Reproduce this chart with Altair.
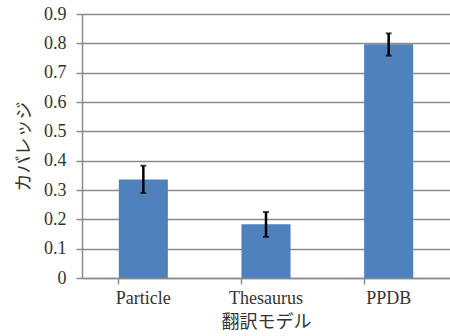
import altair as alt
import pandas as pd

models = ["Particle", "Thesaurus", "PPDB"]
coverage = [0.336, 0.183, 0.797]
err_low = [0.290, 0.140, 0.758]
err_high = [0.383, 0.225, 0.834]
y_ticks = [0, 0.1, 0.2, 0.3, 0.4, 0.5, 0.6, 0.7, 0.8, 0.9]

df = pd.DataFrame({"model": models, "coverage": coverage, "lo": err_low, "hi": err_high})

label_font = "Liberation Serif"
cjk_font = "Noto Sans CJK JP"
grid_color = "#8c8c8c"
text_color = "#333333"

x_axis = alt.Axis(
    title="翻訳モデル",
    titleFont=cjk_font,
    titleFontSize=18,
    titleFontWeight="normal",
    titleColor=text_color,
    titleX=184,
    titleY=44,
    titleBaseline="middle",
    titleAlign="center",
    labelAngle=0,
    labelFont=label_font,
    labelFontSize=18,
    labelColor=text_color,
    labelPadding=5,
    tickSize=6,
    tickColor=grid_color,
    tickWidth=1.5,
    bandPosition=0,
    domainColor=grid_color,
    domainWidth=1.5,
    grid=False,
)

y_axis = alt.Axis(
    title="カバレッジ",
    titleFont=cjk_font,
    titleFontSize=18,
    titleFontWeight="normal",
    titleColor=text_color,
    titleX=-58,
    titleY=132,
    titleAngle=270,
    titleBaseline="middle",
    titleAlign="center",
    values=y_ticks,
    format=".1~f",
    labelOverlap=False,
    labelFont=label_font,
    labelFontSize=18,
    labelColor=text_color,
    labelPadding=10,
    tickSize=6,
    tickColor=grid_color,
    tickWidth=1.5,
    domainColor=grid_color,
    domainWidth=1.5,
    grid=True,
    gridColor=grid_color,
    gridWidth=1.5,
)

x_scale = alt.Scale(paddingInner=0.6, paddingOuter=0.3)
y_scale = alt.Scale(domain=[0, 0.9], nice=False)

base = alt.Chart(df)

bars = base.mark_bar(color="#4F81BD").encode(
    x=alt.X("model:N", sort=models, scale=x_scale, axis=x_axis),
    y=alt.Y("coverage:Q", scale=y_scale, axis=y_axis),
)

rules = base.mark_rule(color="black", strokeWidth=2.5).encode(
    x=alt.X("model:N", sort=models, scale=x_scale, axis=x_axis),
    y=alt.Y("lo:Q", scale=y_scale, axis=y_axis),
    y2="hi:Q",
)

caps_lo = base.mark_tick(color="black", thickness=2, size=6).encode(
    x=alt.X("model:N", sort=models, scale=x_scale, axis=x_axis),
    y=alt.Y("lo:Q", scale=y_scale, axis=y_axis),
)
caps_hi = base.mark_tick(color="black", thickness=2, size=6).encode(
    x=alt.X("model:N", sort=models, scale=x_scale, axis=x_axis),
    y=alt.Y("hi:Q", scale=y_scale, axis=y_axis),
)

chart = (
    alt.layer(bars, rules, caps_lo, caps_hi)
    .properties(
        width=368,
        height=264,
        autosize=alt.AutoSizeParams(type="none"),
        padding={"left": 82, "top": 14, "right": 0, "bottom": 58},
        background="white",
    )
    .configure_view(stroke=None)
)

chart.save("out.html", embed_options={"renderer": "svg", "actions": False})
